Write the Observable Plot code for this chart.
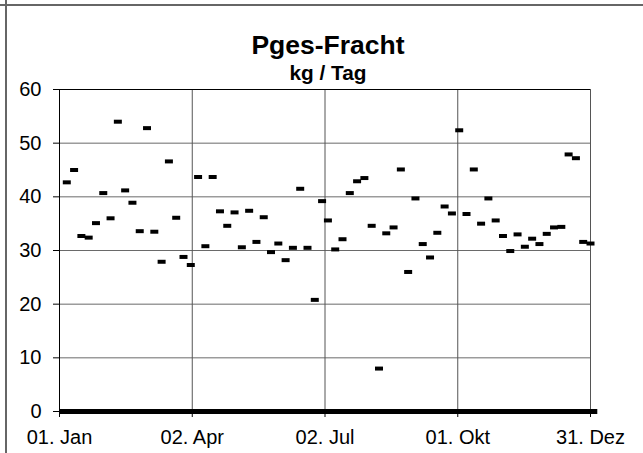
<!DOCTYPE html>
<html><head><meta charset="utf-8">
<script src="https://cdn.jsdelivr.net/npm/d3@7"></script>
<script src="https://cdn.jsdelivr.net/npm/@observablehq/plot@0.6"></script>
<style>
body{margin:0;background:#fff;}
#wrap{position:relative;width:643px;height:453px;overflow:hidden;font-family:"Liberation Sans",Arial,sans-serif;background:#fff;}
.t{position:absolute;left:228px;width:200px;text-align:center;font-weight:bold;line-height:1;color:#000;white-space:nowrap;}
.fh{position:absolute;left:0;top:4px;width:643px;height:0;border-top:2px solid #666;}
.fv{position:absolute;left:5px;top:0;width:0;height:453px;border-left:2px solid #666;}
</style></head><body>
<div id="wrap">
  <div class="fh"></div><div class="fv"></div>
  <div class="t" style="top:33px;font-size:25px;transform:scaleX(1.06);">Pges-Fracht</div>
  <div class="t" style="top:63px;font-size:20px;transform:scaleX(1.04);">kg / Tag</div>
</div>
<script>
// day of year (0 = 01. Jan) of each sample
const days = [5,10,15,20,25,30,35,40,45,50,55,60,65,70,75,80,85,90,95,100,105,110,115,120,125,130,135,140,145,150,155,160,165,170,175,180,
  184,189,194,199,204,209,214,219,224,229,234,239,244,249,254,259,264,269,274,279,284,289,294,299,304,309,314,319,324,329,334,339,344,349,354,359,364];
// Pges-Fracht, kg / Tag
const values = [42.7,45.0,32.7,32.4,35.1,40.7,36.0,54.0,41.2,38.9,
  33.6,52.8,33.5,27.9,46.6,36.1,28.8,27.3,43.7,30.8,
  43.7,37.3,34.6,37.1,30.6,37.4,31.6,36.2,29.7,31.3,
  28.2,30.5,41.5,30.5,20.8,39.2,35.6,30.2,32.1,40.7,
  42.9,43.5,34.6,8.0,33.2,34.3,45.1,26.0,39.7,31.2,
  28.7,33.3,38.2,36.9,52.4,36.8,45.1,35.0,39.7,35.6,
  32.7,29.9,33.0,30.7,32.2,31.2,33.1,34.3,34.4,47.9,
  47.2,31.6,31.3];
const tickDays = [0, 91, 182, 273, 364];
const tickLabels = ["01. Jan", "02. Apr", "02. Jul", "01. Okt", "31. Dez"];
const yTicks = [0, 10, 20, 30, 40, 50, 60];

const toDate = d => new Date(Date.UTC(2001, 0, 1 + d));
const data = days.map((d, i) => ({date: toDate(d), value: values[i]}));
const labelFor = new Map(tickDays.map((d, i) => [+toDate(d), tickLabels[i]]));
const dash = {draw(ctx) { ctx.moveTo(-4, -2); ctx.lineTo(4, -2); ctx.lineTo(4, 2); ctx.lineTo(-4, 2); ctx.closePath(); }};

const plot = Plot.plot({
  width: 643, height: 453,
  marginLeft: 59, marginRight: 53, marginTop: 89, marginBottom: 42,
  style: {fontFamily: "'Liberation Sans', Arial, sans-serif", fontSize: "20px", color: "#000", background: "transparent"},
  x: {type: "utc", domain: [toDate(0), toDate(364)], ticks: tickDays.map(toDate), tickFormat: d => labelFor.get(+d), tickSize: 6, tickPadding: 12, label: null},
  y: {domain: [0, 60], ticks: yTicks, tickSize: 6, tickPadding: 12, label: null},
  marks: [
    Plot.ruleY(yTicks.slice(1, -1), {stroke: "#6a6a6a"}),
    Plot.ruleX(tickDays.slice(1, -1).map(toDate), {stroke: "#555"}),
    Plot.ruleY([60], {stroke: "#000"}),
    Plot.ruleX([toDate(364)], {stroke: "#555"}),
    Plot.ruleX([toDate(0)], {stroke: "#000"}),
    Plot.ruleY([0], {x1: toDate(0), x2: toDate(369), stroke: "#000", strokeWidth: 5}),
    Plot.dot(data, {x: "date", y: "value", symbol: dash, fill: "#000", stroke: null, r: 4})
  ]
});
plot.style.position = "absolute";
plot.style.left = "0";
plot.style.top = "0";
document.getElementById("wrap").appendChild(plot);
</script>
</body></html>
